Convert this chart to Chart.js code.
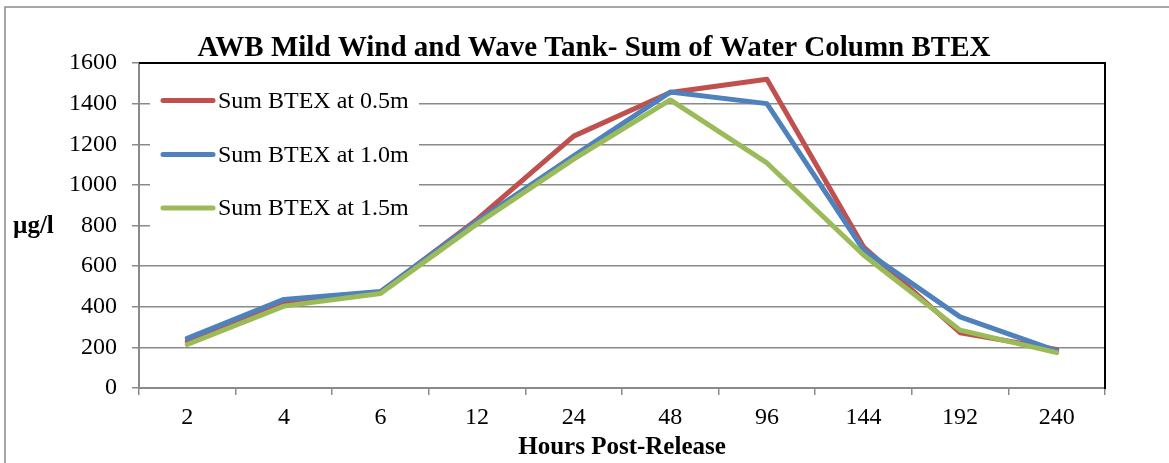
<!DOCTYPE html>
<html>
<head>
<meta charset="utf-8">
<script src="https://cdn.jsdelivr.net/npm/chart.js@4.4.1/dist/chart.umd.min.js"></script>
<style>
  html, body { margin: 0; padding: 0; background: #ffffff; }
  #wrap { width: 1169px; height: 463px; position: relative; }
</style>
</head>
<body>
<div id="wrap"><canvas id="c" width="1169" height="463"></canvas></div>
<script>
// ---- data ----
const categories = ["2", "4", "6", "12", "24", "48", "96", "144", "192", "240"];
const seriesNames = ["Sum BTEX at 0.5m", "Sum BTEX at 1.0m", "Sum BTEX at 1.5m"];
const btex05 = [228, 417, 472, 830, 1240, 1455, 1520, 695, 272, 190];
const btex10 = [244, 436, 475, 822, 1143, 1457, 1400, 680, 350, 183];
const btex15 = [214, 403, 465, 808, 1127, 1418, 1108, 655, 285, 174];
const yTicks = [0, 200, 400, 600, 800, 1000, 1200, 1400, 1600];
const chartTitle = "AWB Mild Wind and Wave Tank- Sum of Water Column BTEX";
const xTitle = "Hours Post-Release";
const yTitle = "µg/l";

const colors = ["#C0504D", "#4F81BD", "#9BBB59"];
const serif = "'Liberation Serif', 'DejaVu Serif', serif";

const decor = {
  id: 'decor',
  beforeDraw(chart) {
    const ctx = chart.ctx;
    ctx.save();
    ctx.fillStyle = '#ffffff';
    ctx.fillRect(0, 0, chart.width, chart.height);
    // outer chart border (left & top visible)
    ctx.strokeStyle = '#8a8a8a';
    ctx.lineWidth = 1.5;
    ctx.beginPath();
    ctx.moveTo(5, chart.height);
    ctx.lineTo(5, 7);
    ctx.lineTo(chart.width, 7);
    ctx.stroke();
    ctx.restore();
  },
  afterDraw(chart) {
    const ctx = chart.ctx;
    const a = chart.chartArea;
    ctx.save();
    // top & right plot-area border
    ctx.strokeStyle = '#000000';
    ctx.lineWidth = 2;
    ctx.beginPath();
    ctx.moveTo(a.left, a.top);
    ctx.lineTo(a.right, a.top);
    ctx.lineTo(a.right, a.bottom + 1);
    ctx.stroke();
    // chart title
    ctx.fillStyle = '#000000';
    ctx.font = "bold 29px " + serif;
    ctx.textAlign = 'center';
    ctx.textBaseline = 'alphabetic';
    ctx.fillText(chartTitle, 594, 56);
    // y title (horizontal)
    ctx.font = "bold 25px " + serif;
    ctx.textAlign = 'left';
    ctx.textBaseline = 'middle';
    ctx.fillText(yTitle, 13, (a.top + a.bottom) / 2 + 1);
    // legend inside plot
    ctx.fillStyle = '#ffffff';
    ctx.fillRect(150, 76, 269, 158);
    const ys = [100.5, 154.5, 208];
    chart.data.datasets.forEach((ds, i) => {
      ctx.strokeStyle = ds.borderColor;
      ctx.lineWidth = 5;
      ctx.lineCap = 'round';
      ctx.beginPath();
      ctx.moveTo(163, ys[i]);
      ctx.lineTo(213, ys[i]);
      ctx.stroke();
      ctx.fillStyle = '#000000';
      ctx.font = "24px " + serif;
      ctx.textAlign = 'left';
      ctx.textBaseline = 'middle';
      ctx.fillText(ds.label, 218, ys[i] + 1);
    });
    ctx.restore();
  }
};

const mkDs = (label, data, color, order) => ({
  label, data,
  borderColor: color, backgroundColor: color,
  borderWidth: 5, pointRadius: 0, tension: 0,
  borderCapStyle: 'round', borderJoinStyle: 'round',
  order
});

new Chart(document.getElementById('c'), {
  type: 'line',
  data: {
    labels: categories,
    datasets: [
      mkDs(seriesNames[0], btex05, colors[0], 3),
      mkDs(seriesNames[1], btex10, colors[1], 2),
      mkDs(seriesNames[2], btex15, colors[2], 1)
    ]
  },
  options: {
    responsive: false,
    animation: false,
    layout: { padding: { left: 0, right: 64, top: 63, bottom: 0 } },
    plugins: {
      legend: { display: false },
      tooltip: { enabled: false },
      title: { display: false }
    },
    scales: {
      x: {
        type: 'category',
        offset: true,
        afterFit(s) { s.height = 75; },
        grid: { display: true, offset: true, drawOnChartArea: false, drawTicks: true, tickLength: 7, color: '#8a8a8a', lineWidth: 1.5 },
        border: { display: true, color: '#8a8a8a', width: 2 },
        ticks: { color: '#000000', font: { family: serif, size: 24 }, padding: 8, maxRotation: 0, autoSkip: false },
        title: { display: true, text: xTitle, color: '#000000', font: { family: serif, size: 25, weight: 'bold', lineHeight: 1.2 }, padding: { top: 0, bottom: 0 } }
      },
      y: {
        min: 0, max: 1600,
        afterFit(s) { s.width = 139; },
        afterBuildTicks(s) { s.ticks = yTicks.map(v => ({ value: v })); },
        grid: { display: true, drawOnChartArea: true, drawTicks: true, tickLength: 7, color: '#8a8a8a', lineWidth: 1.5 },
        border: { display: true, color: '#8a8a8a', width: 2 },
        ticks: { color: '#000000', font: { family: serif, size: 24 }, padding: 15, callback: (v) => String(v) }
      }
    }
  },
  plugins: [decor]
});
</script>
</body>
</html>
